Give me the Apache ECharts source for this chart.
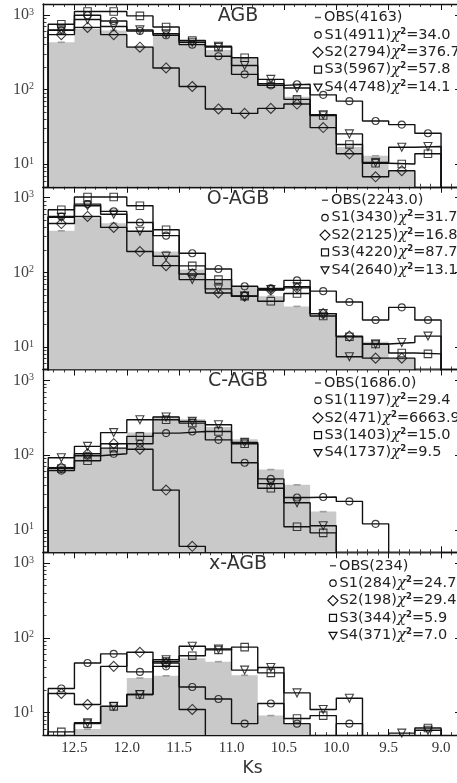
<!DOCTYPE html>
<html>
<head>
<meta charset="utf-8">
<script src="https://cdn.jsdelivr.net/npm/echarts@6/dist/echarts.min.js"></script>
<style>
  html, body { margin: 0; padding: 0; background: #fff; }
  #chart { width: 457px; height: 783px; }
</style>
</head>
<body>
<div id="chart"></div>
<script>
// bin centres in Ks (bins are 0.25 mag wide)
const ksCenters = [12.625, 12.375, 12.125, 11.875, 11.625, 11.375, 11.125, 10.875,
                   10.625, 10.375, 10.125, 9.875, 9.625, 9.375, 9.125];
const binWidth = 0.25;
const ksTicks = [9.0, 9.5, 10.0, 10.5, 11.0, 11.5, 12.0, 12.5];
const countTicks = [10, 100, 1000];

const panelNames = ["AGB", "O-AGB", "C-AGB", "x-AGB"];
const obsTotals = ["4163", "2243.0", "1686.0", "234"];
const simTotals = [
  ["4911", "2794", "5967", "4748"],
  ["3430", "2125", "4220", "2640"],
  ["1197", "471", "1403", "1737"],
  ["284", "198", "344", "371"],
];
const chi2 = [
  ["34.0", "376.7", "57.8", "14.1"],
  ["31.7", "16.8", "87.7", "13.1"],
  ["29.4", "6663.9", "15.0", "9.5"],
  ["24.7", "29.4", "5.9", "7.0"],
];

// AGB
const agbObs = [430, 660, 620, 380, 530, 455, 340, 260, 120, 80, 46, 17, 13, 8, 0];
const agbS1 = [620, 990, 830, 610, 533, 400, 280, 160, 114, 118, 85, 70, 38, 34, 26];
const agbS2 = [545, 680, 545, 370, 195, 110, 55, 48, 56, 64, 31, 13.8, 6.8, 8.2, 0];
const agbS3 = [750, 1110, 1110, 970, 690, 455, 370, 267, 120, 74, 45, 18.4, 10.3, 10.1, 13.8];
const agbS4 = [630, 870, 700, 630, 560, 430, 380, 210, 137, 105, 46, 25.5, 10.6, 16.9, 17.3];
// O-AGB
const oagbObs = [360, 530, 455, 350, 190, 109, 80, 65, 48, 35, 27, 14, 11.8, 7, 0];
const oagbS1 = [560, 820, 655, 465, 310, 180, 111, 65, 61, 78, 56, 40, 23, 34, 23];
const oagbS2 = [450, 560, 400, 190, 123, 95, 53, 48, 58, 62, 28, 14, 7.1, 7.1, 0];
const oagbS3 = [690, 1020, 1020, 780, 372, 122, 80, 48, 41, 52, 26, 13.7, 11, 8.3, 8.1];
const oagbS4 = [545, 780, 600, 355, 164, 80, 60, 48, 59, 64, 28, 7.4, 11, 11.5, 14];
// C-AGB
const cagbObs = [70, 100, 125, 200, 330, 303, 237, 163, 64, 40, 17.5, 0, 0, 0, 0];
const cagbS1 = [62, 98, 104, 142, 197, 207, 160, 79, 48, 27, 27.5, 24, 12, 0, 0];
const cagbS2 = [68, 104, 142, 120, 34, 6, 0, 0, 0, 0, 0, 0, 0, 0, 0];
const cagbS3 = [66, 84, 124, 178, 297, 268, 207, 142, 36, 11, 9.1, 0, 0, 0, 0];
const cagbS4 = [92, 131, 200, 297, 323, 283, 255, 148, 41.5, 23, 11.3, 0, 0, 0, 0];
// x-AGB
const xagbObs = [0, 6, 12.5, 29, 31, 53.5, 48, 31.5, 9.1, 7.1, 0, 0, 0, 0, 0];
const xagbS1 = [21, 46, 61, 35, 41.5, 22, 15.2, 7.1, 13.2, 7.1, 0, 7.1, 0, 0, 0];
const xagbS2 = [18, 12.8, 41.5, 64, 46, 11, 0, 0, 0, 0, 0, 0, 0, 0, 0];
const xagbS3 = [5.5, 7.1, 12.1, 17.4, 48, 57.5, 69, 75, 34, 8.3, 9.1, 0, 0, 0, 6.2];
const xagbS4 = [0, 7.3, 12.1, 17.4, 51, 77, 71, 37, 40, 18.3, 11, 15.5, 0, 5.3, 5.8];

const panels = [
  { obs: agbObs, sims: [agbS1, agbS2, agbS3, agbS4] },
  { obs: oagbObs, sims: [oagbS1, oagbS2, oagbS3, oagbS4] },
  { obs: cagbObs, sims: [cagbS1, cagbS2, cagbS3, cagbS4] },
  { obs: xagbObs, sims: [xagbS1, xagbS2, xagbS3, xagbS4] },
];

// layout
const gridLeft = 43, gridWidth = 419, gridTop = 4, panelH = 182.75;
const legendX = [318, 325, 318, 333];
const ink = "#111";
const serif = "Liberation Serif";
const sans = "DejaVu Sans";

const chart = echarts.init(document.getElementById("chart"), null, { renderer: "canvas" });

// values below the axis min stand in for empty bins (clipped away)
const floorVal = 1;
function stepPoints(vals) {
  const pts = [];
  vals.forEach((v, i) => {
    const hi = ksCenters[i] + binWidth / 2, lo = ksCenters[i] - binWidth / 2;
    const y = v > 0 ? v : floorVal;
    if (i === 0) pts.push([hi, floorVal]);
    pts.push([hi, y], [lo, y]);
  });
  pts.push([ksCenters[ksCenters.length - 1] - binWidth / 2, floorVal]);
  return pts;
}
function markerPoints(vals) {
  return vals.map((v, i) => [ksCenters[i], v]).filter(p => p[1] > 0);
}

const ksMinor = [];
for (let k = 88; k <= 128; k++) ksMinor.push(k / 10);
const countMinor = [];
[1, 10, 100].forEach(d => { for (let m = 2; m <= 9; m++) { const v = m * d; if (v >= 5 && v <= 1400) countMinor.push(v); } });

const symbols = ["circle", "diamond", "rect", "path://M0,0L10,0L5,8.66Z"];
const symbolSizes = [7, [10, 10], 7.5, 8];

const grids = [], xAxes = [], yAxes = [], series = [], graphics = [];

panels.forEach((p, i) => {
  const top = gridTop + i * panelH;
  grids.push({ left: gridLeft, width: gridWidth, top: top, height: panelH, outerBoundsMode: "none" });

  const xBase = {
    gridIndex: i, type: "value", min: 8.8, max: 12.8, inverse: true,
    splitLine: { show: false },
    axisLine: { show: false, onZero: false },
    axisLabel: { show: false },
  };
  const isLast = i === panels.length - 1;
  xAxes.push(Object.assign({}, xBase, {
    position: "bottom",
    axisLine: { show: true, onZero: false, lineStyle: { color: ink, width: 1.3 } },
    axisTick: { inside: true, length: 6, customValues: ksTicks, lineStyle: { color: ink, width: 1 } },
    axisLabel: isLast ? {
      show: true, customValues: ksTicks, margin: 6, color: "#333",
      fontFamily: serif, fontSize: 15, formatter: v => v.toFixed(1),
    } : { show: false },
    name: isLast ? "Ks" : "",
    nameLocation: "middle", nameGap: 25,
    nameTextStyle: { fontFamily: sans, fontSize: 17, color: "#333" },
  }));
  xAxes.push(Object.assign({}, xBase, {
    position: "bottom",
    axisTick: { inside: true, length: 3, customValues: ksMinor, lineStyle: { color: ink, width: 0.8 } },
  }));
  xAxes.push(Object.assign({}, xBase, {
    position: "top",
    axisLine: { show: true, onZero: false, lineStyle: { color: ink, width: 1.3 } },
    axisTick: { inside: true, length: 6, customValues: ksTicks, lineStyle: { color: ink, width: 1 } },
  }));
  xAxes.push(Object.assign({}, xBase, {
    position: "top",
    axisTick: { inside: true, length: 3, customValues: ksMinor, lineStyle: { color: ink, width: 0.8 } },
  }));

  const yBase = {
    gridIndex: i, type: "log", logBase: 10, min: 5, max: 1400,
    splitLine: { show: false },
    axisLine: { show: false, onZero: false },
    axisLabel: { show: false },
  };
  yAxes.push(Object.assign({}, yBase, {
    position: "left",
    axisLine: { show: true, onZero: false, lineStyle: { color: ink, width: 1.3 } },
    axisTick: { inside: true, length: 7, customValues: countTicks, lineStyle: { color: ink, width: 1 } },
    axisLabel: {
      show: true, customValues: countTicks, margin: 9,
      formatter: v => "{b|10}{sup|" + Math.round(Math.log10(v)) + "}",
      rich: {
        b: { fontFamily: serif, fontSize: 16, color: "#444", lineHeight: 16, verticalAlign: "middle" },
        sup: { fontFamily: serif, fontSize: 10, color: "#444", lineHeight: 10, verticalAlign: "top" },
      },
    },
  }));
  yAxes.push(Object.assign({}, yBase, {
    position: "left",
    axisTick: { inside: true, length: 3.5, customValues: countMinor, lineStyle: { color: ink, width: 0.8 } },
  }));
  yAxes.push(Object.assign({}, yBase, {
    position: "right",
    axisLine: { show: true, onZero: false, lineStyle: { color: ink, width: 1.3 } },
    axisTick: { inside: true, length: 7, customValues: countTicks, lineStyle: { color: ink, width: 1 } },
  }));
  yAxes.push(Object.assign({}, yBase, {
    position: "right",
    axisTick: { inside: true, length: 3.5, customValues: countMinor, lineStyle: { color: ink, width: 0.8 } },
  }));

  const ax = { xAxisIndex: 4 * i, yAxisIndex: 4 * i };
  series.push(Object.assign({
    type: "line", data: stepPoints(p.obs), symbol: "none", silent: true,
    lineStyle: { width: 0, opacity: 0 },
    areaStyle: { color: "#c9c9c9", opacity: 1, origin: "start" }, z: 1,
  }, ax));
  series.push(Object.assign({
    type: "scatter", data: markerPoints(p.obs), symbol: "rect", symbolSize: [7, 1.6],
    itemStyle: { color: "#8c8c8c" }, z: 2,
  }, ax));
  p.sims.forEach((vals, k) => {
    series.push(Object.assign({
      type: "line", data: stepPoints(vals), symbol: "none",
      lineStyle: { color: ink, width: 1.4 }, z: 3,
    }, ax));
    series.push(Object.assign({
      type: "scatter", data: markerPoints(vals), symbol: symbols[k], symbolSize: symbolSizes[k],
      itemStyle: { color: "rgba(0,0,0,0)", borderColor: ink, borderWidth: 1.1 }, z: 4,
    }, ax));
  });

  // panel title
  graphics.push({
    type: "text", x: 238, y: top + 12, z: 10,
    style: { text: panelNames[i], fontFamily: sans, fontSize: 19, fill: "#333", align: "center", verticalAlign: "middle" },
  });

  // legend (upper right)
  const lx = legendX[i];
  const rowY = k => top + 13.5 + 17.4 * k;
  graphics.push({
    type: "line", z: 10,
    shape: { x1: lx - 3, y1: rowY(0), x2: lx + 3, y2: rowY(0) },
    style: { stroke: "#555", lineWidth: 1.5 },
  });
  graphics.push({
    type: "text", x: lx + 6, y: rowY(0), z: 10,
    style: { text: "OBS(" + obsTotals[i] + ")", fontFamily: sans, fontSize: 14.5, fill: "#222", verticalAlign: "middle" },
  });
  const mk = { fill: "none", stroke: ink, lineWidth: 1.2 };
  for (let k = 0; k < 4; k++) {
    const cy = rowY(k + 1);
    if (k === 0) graphics.push({ type: "circle", z: 10, shape: { cx: lx, cy: cy, r: 3.2 }, style: mk });
    if (k === 1) graphics.push({ type: "polygon", z: 10, shape: { points: [[lx, cy - 5], [lx + 5, cy], [lx, cy + 5], [lx - 5, cy]] }, style: mk });
    if (k === 2) graphics.push({ type: "rect", z: 10, shape: { x: lx - 3.5, y: cy - 3.5, width: 7, height: 7 }, style: mk });
    if (k === 3) graphics.push({ type: "polygon", z: 10, shape: { points: [[lx - 4, cy - 3], [lx + 4, cy - 3], [lx, cy + 4]] }, style: mk });
    graphics.push({
      type: "text", x: lx + 6.5, y: cy, z: 10,
      style: {
        text: "{t|S" + (k + 1) + "(" + simTotals[i][k] + ")}{chi|χ}{sup|2}{t|=" + chi2[i][k] + "}",
        verticalAlign: "middle",
        rich: {
          t: { fontFamily: sans, fontSize: 14.5, fill: "#222", lineHeight: 16, verticalAlign: "middle" },
          chi: { fontFamily: "DejaVu Serif", fontStyle: "italic", fontSize: 15, fill: "#222", lineHeight: 16, verticalAlign: "middle" },
          sup: { fontFamily: sans, fontWeight: "bold", fontSize: 8.5, fill: "#222", lineHeight: 9, verticalAlign: "top" },
        },
      },
    });
  }
});

chart.setOption({
  animation: false,
  backgroundColor: "#fff",
  grid: grids,
  xAxis: xAxes,
  yAxis: yAxes,
  series: series,
  graphic: { elements: graphics },
});
</script>
</body>
</html>
